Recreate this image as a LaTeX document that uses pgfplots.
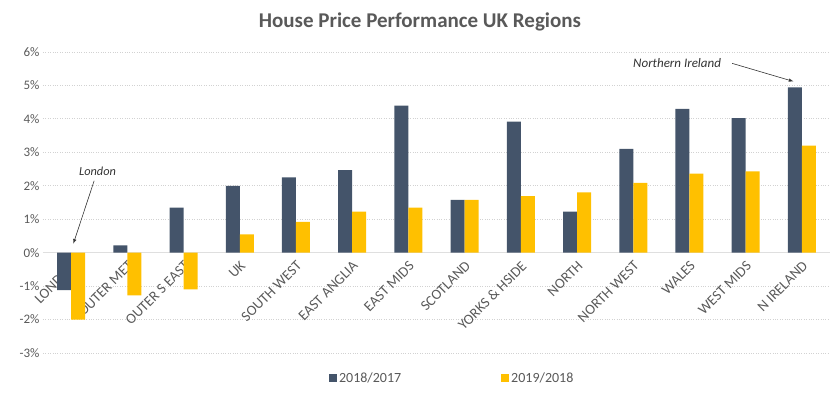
\documentclass[border=0pt]{standalone}
\usepackage{fontspec}
\setmainfont{Carlito}
\usepackage{pgfplots}
\pgfplotsset{compat=1.18}
\definecolor{darkbar}{HTML}{44546A}
\definecolor{yelbar}{HTML}{FFC000}
\definecolor{txtgray}{HTML}{595959}
\begin{document}
\begin{tikzpicture}
\path[use as bounding box] (-43pt,-44pt) rectangle (797pt,353pt);
\begin{axis}[
  scale only axis,
  width=787pt, height=301pt,
  at={(0,0)}, anchor=south west,
  ybar=0pt, bar width=14pt,
  xmin=-0.5, xmax=13.5,
  ymin=-3, ymax=6,
  axis x line*=middle,
  axis y line*=left,
  x axis line style={draw=gray!25, line width=1.2pt},
  y axis line style={draw=none},
  xtick={0,...,13},
  xticklabels={LONDON,OUTER MET,OUTER S EAST,UK,SOUTH WEST,EAST ANGLIA,EAST MIDS,SCOTLAND,YORKS \& HSIDE,NORTH,NORTH WEST,WALES,WEST MIDS,N IRELAND},
  x tick label style={rotate=45, anchor=east, font=\fontsize{14.5}{14.5}\selectfont, text=txtgray, xshift=1pt, yshift=-7pt},
  ytick={-3,...,6},
  yticklabels={-3\%,-2\%,-1\%,0\%,1\%,2\%,3\%,4\%,5\%,6\%},
  y tick label style={font=\fontsize{13}{13}\selectfont, text=txtgray},
  tick style={draw=none},
  ymajorgrids,
  major grid style={dotted, gray!35, line width=0.8pt},
  legend columns=2,
  legend style={draw=none, at={(rel axis cs:0.52,0)}, anchor=center, yshift=-25pt, font=\fontsize{14}{14}\selectfont, text=txtgray, /tikz/every even column/.append style={column sep=98pt}},
  legend image code/.code={\fill[#1] (0pt,-4pt) rectangle (8pt,4pt);},
  clip=false,
]
\addplot[fill=darkbar, draw=none] coordinates {
(0,-1.12) (1,0.22) (2,1.35) (3,2.0) (4,2.25) (5,2.47) (6,4.4) (7,1.58) (8,3.92) (9,1.23) (10,3.1) (11,4.3) (12,4.02) (13,4.94)};
\addplot[fill=yelbar, draw=none] coordinates {
(0,-2.0) (1,-1.28) (2,-1.1) (3,0.55) (4,0.92) (5,1.23) (6,1.35) (7,1.58) (8,1.69) (9,1.8) (10,2.09) (11,2.36) (12,2.43) (13,3.2)};
\legend{2018/2017,2019/2018}
\node[font=\itshape\fontsize{12.3}{12.3}\selectfont, text=black!80] at (axis cs:0.47,2.42) {London};
\draw[-latex, black!80, semithick] (axis cs:0.41,2.15) -- (axis cs:0.04,0.27);
\node[font=\itshape\fontsize{13}{13}\selectfont, text=black!80] at (axis cs:10.78,5.66) {Northern Ireland};
\draw[-latex, black!80, semithick] (axis cs:11.76,5.66) -- (axis cs:12.85,5.12);
\end{axis}
\node[font=\bfseries\fontsize{21}{21}\selectfont, text=txtgray] at (377pt,331pt) {House Price Performance UK Regions};
\end{tikzpicture}
\end{document}
